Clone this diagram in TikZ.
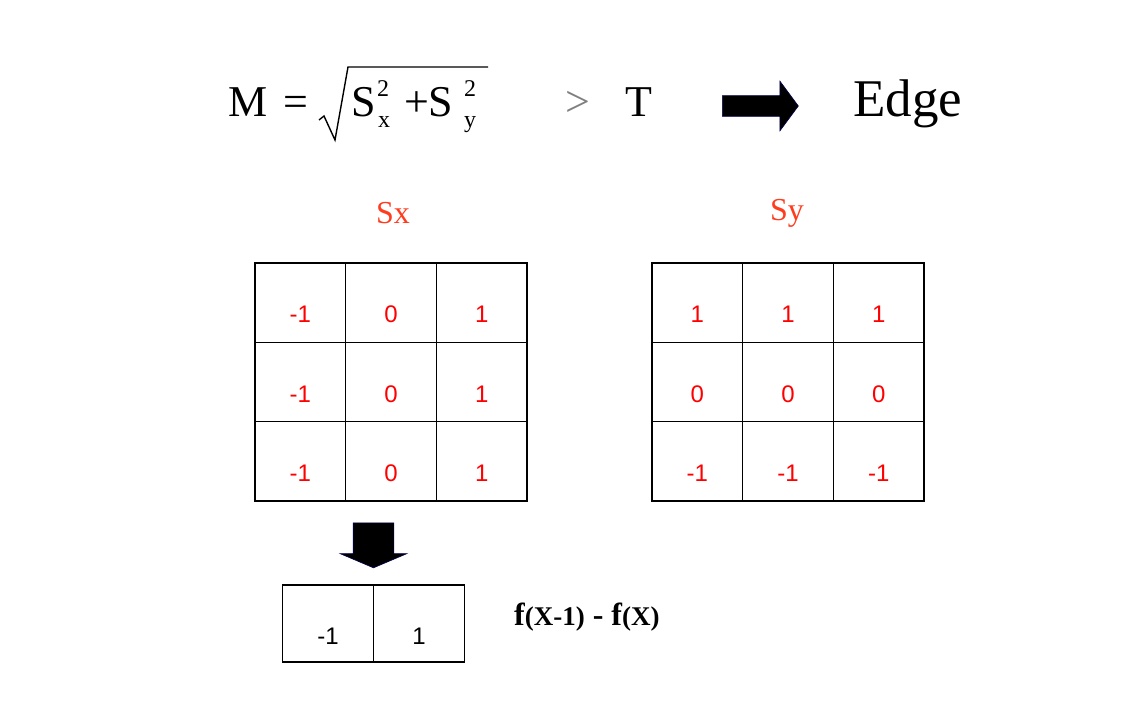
\documentclass[tikz,border=0pt]{standalone}
\usepackage{fontspec}
\setmainfont{Liberation Serif}
\setsansfont{Liberation Sans}
\usetikzlibrary{shapes.arrows}
\definecolor{sred}{RGB}{255,60,30}

\begin{document}
\begin{tikzpicture}[
  x=1pt, y=-1pt,
  cell/.style={draw, line width=1.6pt, minimum width=90.7pt, minimum height=79.3pt, inner sep=0pt},
  smallcell/.style={draw, line width=1.6pt, minimum width=91pt, minimum height=77pt, inner sep=0pt},
  num/.style={font=\sffamily\fontsize{24}{24}\selectfont, text=red, inner sep=0pt},
  title/.style={font=\fontsize{32}{32}\selectfont, text=sred, inner sep=0pt},
  bigtext/.style={font=\fontsize{44}{44}\selectfont, inner sep=0pt, anchor=base west},
  script/.style={font=\fontsize{24}{24}\selectfont, inner sep=0pt, anchor=base west},
  radical/.style={line width=1.4pt, line join=miter},
  blockarrow/.style={single arrow, fill=black, draw=blue!30!black, line width=0.6pt, inner sep=0pt, minimum width=0pt}
]
\useasboundingbox (0,0) rectangle (1129,706);

% formula
\node[bigtext] (mm) at (228,117) {M};
\node[bigtext] (eq) at (283,117) {=};
\draw[radical] (319,120) -- (324,116) -- (335,140) -- (348,67) -- (488,67);
\node[bigtext] (s1) at (351,117) {S};
\node[script] (s1sup) at (377,97) {2};
\node[script] (s1sub) at (378,128) {x};
\node[bigtext] (plus) at (404,117) {+};
\node[bigtext] (s2) at (428,117) {S};
\node[script] (s2sup) at (464,97) {2};
\node[script] (s2sub) at (464,128) {y};
\node[bigtext, text=gray] (gt) at (565,117) {>};
\node[bigtext] (thr) at (625,117) {T};
\node[blockarrow, minimum height=76pt, single arrow head extend=14.5pt, single arrow tip angle=107,
  text width=0pt, inner ysep=10pt] (toedge) at (756.5,106) {};
\node[bigtext, font=\fontsize{53}{53}\selectfont] (edge) at (853,117) {Edge};

% Sx
\node[title] (sxt) at (393,213) {Sx};
\foreach \vals [count=\r] in {{-1,0,1},{-1,0,1},{-1,0,1}}
  \foreach \v [count=\c] in \vals {
    \node[cell] (sx\r\c) at ({255+90.67*(\c-0.5)},{263+79.33*(\r-0.5)}) {};
    \node[num] at ([yshift=-12pt]sx\r\c.center) {\v};
  }

% Sy
\node[title] (syt) at (787,213) {Sy};
\foreach \vals [count=\r] in {{1,1,1},{0,0,0},{-1,-1,-1}}
  \foreach \v [count=\c] in \vals {
    \node[cell] (sy\r\c) at ({652+90.67*(\c-0.5)},{263+79.33*(\r-0.5)}) {};
    \node[num] at ([yshift=-12pt]sy\r\c.center) {\v};
  }

% difference
\node[blockarrow, rotate=-90, minimum height=45pt, single arrow head extend=13pt, single arrow tip angle=134,
  text width=0pt, inner ysep=20pt] (down) at (373.5,541) {};
\node[smallcell] (d1) at (328,623.5) {};
\node[smallcell] (d2) at (419,623.5) {};
\node[num, text=black] at ([yshift=-13pt]d1.center) {-1};
\node[num, text=black] at ([yshift=-13pt]d2.center) {1};
\node[anchor=base west, inner sep=0pt, font=\bfseries\fontsize{32}{32}\selectfont] (diff) at (514,625)
  {f{\fontsize{27}{27}\selectfont(X-1)} - f{\fontsize{27}{27}\selectfont(X)}};
\end{tikzpicture}
\end{document}
